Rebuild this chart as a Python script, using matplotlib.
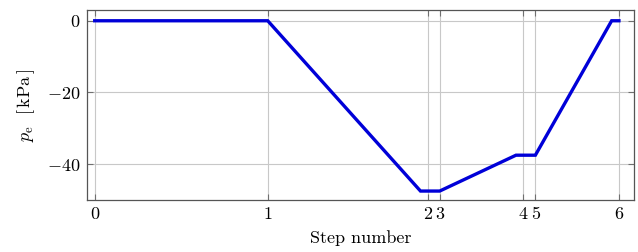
import matplotlib
matplotlib.use("Agg")
import matplotlib.pyplot as plt

plt.rcParams['font.family'] = 'serif'
plt.rcParams['font.serif'] = ['cmr10']
plt.rcParams['mathtext.fontset'] = 'cm'
plt.rcParams['axes.formatter.use_mathtext'] = True

# step boundaries (position on the time axis) and their labels
step_pos = [0.0, 1.0, 1.925, 1.994, 2.477, 2.547, 3.03]
step_labels = ['0', '1', '2', '3', '4', '5', '6']

# pressure history
t = [0.0, 1.0, 1.883, 1.994, 2.435, 2.547, 2.988, 3.03]
pe = [0.0, 0.0, -47.5, -47.5, -37.5, -37.5, 0.0, 0.0]

y_ticks = [0, -20, -40]

fig = plt.figure(figsize=(6.38, 2.52), dpi=100)
ax = fig.add_axes([0.1368, 0.2063, 0.9937 - 0.1368, 0.9603 - 0.2063])

ax.plot(t, pe, color='#0000d8', linewidth=2.4, solid_joinstyle='miter', zorder=3)

ax.set_xlim(-0.043, 3.117)
ax.set_ylim(-50, 3)
ax.set_xticks(step_pos)
ax.set_xticklabels(step_labels)
ax.set_yticks(y_ticks)

ax.grid(True, color='#c8c8c8', linewidth=0.8)
ax.tick_params(direction='in', top=True, right=True, length=4.5, width=0.8,
               color='#707070', labelsize=13, pad=5)
for s in ax.spines.values():
    s.set_color('#555555')
    s.set_linewidth(0.9)

ax.set_xlabel('Step number', fontsize=13, labelpad=6)
ax.set_ylabel(r'$p_{\mathrm{e}}\ \ [\,\mathrm{kPa}\,]$', fontsize=13, labelpad=7)

fig.savefig('out.png', dpi=100)
